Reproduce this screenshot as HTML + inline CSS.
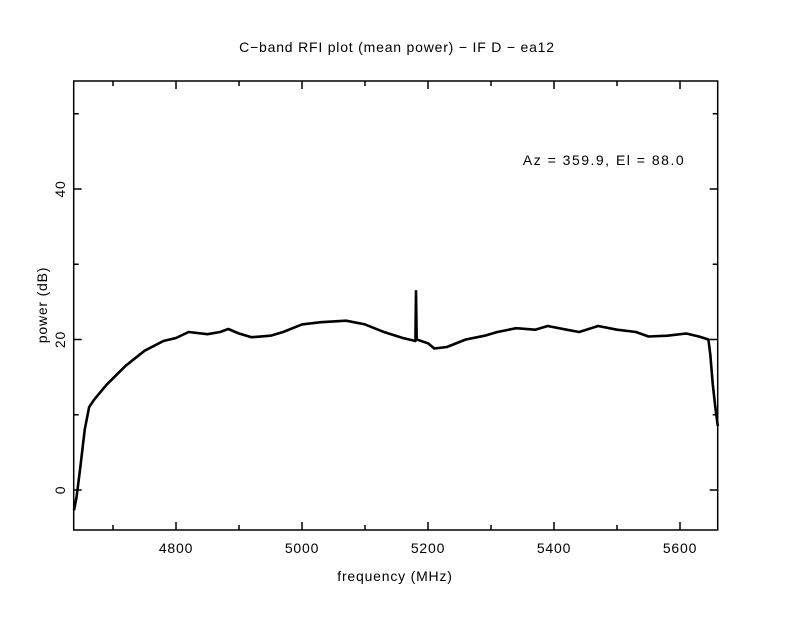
<!DOCTYPE html>
<html><head><meta charset="utf-8"><style>
body{margin:0;background:#fff}
svg text{font-family:"Liberation Sans",sans-serif;font-size:14px;letter-spacing:0.8px;fill:#000}
</style></head><body>
<svg id="chart" width="792" height="612">
<text x="397" y="52" text-anchor="middle">C−band RFI plot (mean power) − IF D − ea12</text>
<text x="395" y="581" text-anchor="middle">frequency (MHz)</text>
<text transform="translate(47,305) rotate(-90)" text-anchor="middle">power (dB)</text>
<text x="604" y="165" text-anchor="middle" style="letter-spacing:1.5px">Az = 359.9, El = 88.0</text>
<g id="axes"></g>
<polyline id="series" fill="none" stroke="#000" stroke-width="2.6" stroke-linejoin="round"/>
<rect x="73.7" y="81" width="644" height="449" fill="none" stroke="#000" stroke-width="1.5"/>
</svg>
<script>
const freqs=[4638,4642,4648,4655,4662,4670,4690,4720,4750,4780,4800,4820,4850,4870,4883,4900,4920,4950,4970,5000,5030,5070,5100,5130,5160,5180,5181,5182,5200,5210,5230,5260,5290,5310,5340,5370,5390,5420,5440,5470,5500,5530,5550,5580,5610,5630,5645,5648,5652,5656,5660];
const power=[-2.7,-1,3,8,11,12,14,16.5,18.5,19.8,20.2,21,20.7,21,21.4,20.8,20.3,20.5,21,22,22.3,22.5,22,21,20.2,19.8,26.4,20,19.5,18.8,19,20,20.5,21,21.5,21.3,21.8,21.3,21,21.8,21.3,21,20.4,20.5,20.8,20.4,20,18,14,11,8.5];
const xTicks=[4700,4800,4900,5000,5100,5200,5300,5400,5500,5600];
const xLabels=[4800,5000,5200,5400,5600];
const yTicks=[0,10,20,30,40,50];
const yLabels=[0,20,40];
const X=f=>73.7+(f-4637.6)*0.63;
const Y=v=>490-v*7.525;
const NS='http://www.w3.org/2000/svg';
const ax=document.getElementById('axes');
function mk(t,a){const e=document.createElementNS(NS,t);for(const k in a)e.setAttribute(k,a[k]);ax.appendChild(e);return e;}
xTicks.forEach(f=>{const L=xLabels.includes(f)?8:5;
const t1=mk('line',{x1:X(f),x2:X(f),y1:530,y2:530-L,stroke:'#000','stroke-width':1.5});


const t2=mk('line',{x1:X(f),x2:X(f),y1:81,y2:81+L,stroke:'#000','stroke-width':1.5});

});
xLabels.forEach(f=>{const t=mk('text',{x:X(f),y:553,'text-anchor':'middle'});t.textContent=f;

});
yTicks.forEach(v=>{const L=yLabels.includes(v)?8:5;
const t1=mk('line',{x1:73.7,x2:73.7+L,y1:Y(v),y2:Y(v),stroke:'#000','stroke-width':1.5});


const t2=mk('line',{x1:717.7,x2:717.7-L,y1:Y(v),y2:Y(v),stroke:'#000','stroke-width':1.5});

});
yLabels.forEach(v=>{const t=mk('text',{transform:`translate(65,${Y(v)}) rotate(-90)`,'text-anchor':'middle'});t.textContent=v;

});
document.getElementById('series').setAttribute('points',freqs.map((f,i)=>X(f).toFixed(1)+','+Y(power[i]).toFixed(1)).join(' '));
</script>
</body></html>
